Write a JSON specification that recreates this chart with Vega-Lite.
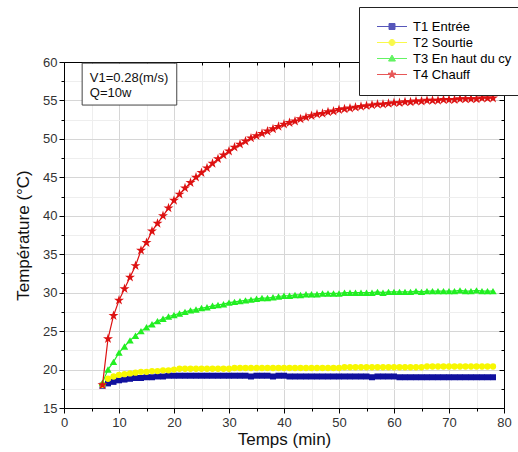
{
  "$schema": "https://vega.github.io/schema/vega-lite/v6.json",
  "autosize": {"type": "none"},
  "padding": {"left": 64, "top": 62, "right": 14, "bottom": 44},
  "width": 440,
  "height": 346,
  "background": "white",
  "config": {
    "font": "Liberation Sans",
    "view": {"stroke": "#000", "strokeWidth": 1},
    "axis": {"domainColor": "#000", "tickColor": "#000", "labelColor": "#333", "labelFont": "Liberation Sans", "labelFontSize": 13, "titleFont": "Liberation Sans", "titleFontSize": 17, "titleFontWeight": "normal", "titleColor": "#111"},
    "legend": {
      "orient": "none", "legendX": 295, "legendY": -55, "title": null,
      "fillColor": "white", "strokeColor": "#222", "padding": 13,
      "labelFont": "Liberation Sans", "labelFontSize": 13, "labelColor": "#000",
      "symbolSize": 36, "symbolOffset": 13.5, "labelOffset": 14.5, "rowPadding": 2, "symbolStrokeWidth": 1
    }
  },
  "datasets": {
    "temps": [
      {"t":7,"v":17.9,"s":"T1 Entrée"},{"t":8,"v":18.2,"s":"T1 Entrée"},{"t":9,"v":18.4,"s":"T1 Entrée"},{"t":10,"v":18.6,"s":"T1 Entrée"},{"t":11,"v":18.7,"s":"T1 Entrée"},{"t":12,"v":18.8,"s":"T1 Entrée"},{"t":13,"v":18.9,"s":"T1 Entrée"},{"t":14,"v":18.9,"s":"T1 Entrée"},{"t":15,"v":19.0,"s":"T1 Entrée"},{"t":16,"v":19.0,"s":"T1 Entrée"},{"t":17,"v":19.1,"s":"T1 Entrée"},{"t":18,"v":19.1,"s":"T1 Entrée"},{"t":19,"v":19.2,"s":"T1 Entrée"},{"t":20,"v":19.2,"s":"T1 Entrée"},
      {"t":21,"v":19.2,"s":"T1 Entrée"},{"t":22,"v":19.2,"s":"T1 Entrée"},{"t":23,"v":19.2,"s":"T1 Entrée"},{"t":24,"v":19.2,"s":"T1 Entrée"},{"t":25,"v":19.2,"s":"T1 Entrée"},{"t":26,"v":19.2,"s":"T1 Entrée"},{"t":27,"v":19.2,"s":"T1 Entrée"},{"t":28,"v":19.2,"s":"T1 Entrée"},{"t":29,"v":19.2,"s":"T1 Entrée"},{"t":30,"v":19.2,"s":"T1 Entrée"},
      {"t":31,"v":19.2,"s":"T1 Entrée"},{"t":32,"v":19.2,"s":"T1 Entrée"},{"t":33,"v":19.2,"s":"T1 Entrée"},{"t":34,"v":19.1,"s":"T1 Entrée"},{"t":35,"v":19.2,"s":"T1 Entrée"},{"t":36,"v":19.2,"s":"T1 Entrée"},{"t":37,"v":19.2,"s":"T1 Entrée"},{"t":38,"v":19.1,"s":"T1 Entrée"},{"t":39,"v":19.2,"s":"T1 Entrée"},{"t":40,"v":19.2,"s":"T1 Entrée"},
      {"t":41,"v":19.1,"s":"T1 Entrée"},{"t":42,"v":19.1,"s":"T1 Entrée"},{"t":43,"v":19.1,"s":"T1 Entrée"},{"t":44,"v":19.1,"s":"T1 Entrée"},{"t":45,"v":19.1,"s":"T1 Entrée"},{"t":46,"v":19.1,"s":"T1 Entrée"},{"t":47,"v":19.1,"s":"T1 Entrée"},{"t":48,"v":19.1,"s":"T1 Entrée"},{"t":49,"v":19.1,"s":"T1 Entrée"},{"t":50,"v":19.1,"s":"T1 Entrée"},
      {"t":51,"v":19.1,"s":"T1 Entrée"},{"t":52,"v":19.1,"s":"T1 Entrée"},{"t":53,"v":19.1,"s":"T1 Entrée"},{"t":54,"v":19.1,"s":"T1 Entrée"},{"t":55,"v":19.1,"s":"T1 Entrée"},{"t":56,"v":19.0,"s":"T1 Entrée"},{"t":57,"v":19.1,"s":"T1 Entrée"},{"t":58,"v":19.1,"s":"T1 Entrée"},{"t":59,"v":19.1,"s":"T1 Entrée"},{"t":60,"v":19.1,"s":"T1 Entrée"},
      {"t":61,"v":19.0,"s":"T1 Entrée"},{"t":62,"v":19.0,"s":"T1 Entrée"},{"t":63,"v":19.0,"s":"T1 Entrée"},{"t":64,"v":19.0,"s":"T1 Entrée"},{"t":65,"v":19.0,"s":"T1 Entrée"},{"t":66,"v":19.0,"s":"T1 Entrée"},{"t":67,"v":19.0,"s":"T1 Entrée"},{"t":68,"v":19.0,"s":"T1 Entrée"},{"t":69,"v":19.0,"s":"T1 Entrée"},{"t":70,"v":19.0,"s":"T1 Entrée"},
      {"t":71,"v":19.0,"s":"T1 Entrée"},{"t":72,"v":19.0,"s":"T1 Entrée"},{"t":73,"v":19.0,"s":"T1 Entrée"},{"t":74,"v":19.0,"s":"T1 Entrée"},{"t":75,"v":19.0,"s":"T1 Entrée"},{"t":76,"v":19.0,"s":"T1 Entrée"},{"t":77,"v":19.0,"s":"T1 Entrée"},{"t":78,"v":19.0,"s":"T1 Entrée"},

      {"t":7,"v":18.0,"s":"T2 Sourtie"},{"t":8,"v":18.8,"s":"T2 Sourtie"},{"t":9,"v":19.1,"s":"T2 Sourtie"},{"t":10,"v":19.3,"s":"T2 Sourtie"},{"t":11,"v":19.4,"s":"T2 Sourtie"},{"t":12,"v":19.5,"s":"T2 Sourtie"},{"t":13,"v":19.6,"s":"T2 Sourtie"},{"t":14,"v":19.7,"s":"T2 Sourtie"},{"t":15,"v":19.7,"s":"T2 Sourtie"},{"t":16,"v":19.8,"s":"T2 Sourtie"},{"t":17,"v":19.8,"s":"T2 Sourtie"},{"t":18,"v":19.9,"s":"T2 Sourtie"},{"t":19,"v":19.9,"s":"T2 Sourtie"},{"t":20,"v":20.0,"s":"T2 Sourtie"},
      {"t":21,"v":20.1,"s":"T2 Sourtie"},{"t":22,"v":20.1,"s":"T2 Sourtie"},{"t":23,"v":20.1,"s":"T2 Sourtie"},{"t":24,"v":20.1,"s":"T2 Sourtie"},{"t":25,"v":20.1,"s":"T2 Sourtie"},{"t":26,"v":20.1,"s":"T2 Sourtie"},{"t":27,"v":20.1,"s":"T2 Sourtie"},{"t":28,"v":20.1,"s":"T2 Sourtie"},{"t":29,"v":20.1,"s":"T2 Sourtie"},{"t":30,"v":20.1,"s":"T2 Sourtie"},
      {"t":31,"v":20.2,"s":"T2 Sourtie"},{"t":32,"v":20.2,"s":"T2 Sourtie"},{"t":33,"v":20.2,"s":"T2 Sourtie"},{"t":34,"v":20.2,"s":"T2 Sourtie"},{"t":35,"v":20.2,"s":"T2 Sourtie"},{"t":36,"v":20.2,"s":"T2 Sourtie"},{"t":37,"v":20.2,"s":"T2 Sourtie"},{"t":38,"v":20.2,"s":"T2 Sourtie"},{"t":39,"v":20.2,"s":"T2 Sourtie"},{"t":40,"v":20.2,"s":"T2 Sourtie"},
      {"t":41,"v":20.2,"s":"T2 Sourtie"},{"t":42,"v":20.2,"s":"T2 Sourtie"},{"t":43,"v":20.2,"s":"T2 Sourtie"},{"t":44,"v":20.2,"s":"T2 Sourtie"},{"t":45,"v":20.2,"s":"T2 Sourtie"},{"t":46,"v":20.2,"s":"T2 Sourtie"},{"t":47,"v":20.2,"s":"T2 Sourtie"},{"t":48,"v":20.2,"s":"T2 Sourtie"},{"t":49,"v":20.2,"s":"T2 Sourtie"},{"t":50,"v":20.2,"s":"T2 Sourtie"},
      {"t":51,"v":20.3,"s":"T2 Sourtie"},{"t":52,"v":20.3,"s":"T2 Sourtie"},{"t":53,"v":20.3,"s":"T2 Sourtie"},{"t":54,"v":20.3,"s":"T2 Sourtie"},{"t":55,"v":20.3,"s":"T2 Sourtie"},{"t":56,"v":20.3,"s":"T2 Sourtie"},{"t":57,"v":20.3,"s":"T2 Sourtie"},{"t":58,"v":20.3,"s":"T2 Sourtie"},{"t":59,"v":20.3,"s":"T2 Sourtie"},{"t":60,"v":20.3,"s":"T2 Sourtie"},
      {"t":61,"v":20.3,"s":"T2 Sourtie"},{"t":62,"v":20.3,"s":"T2 Sourtie"},{"t":63,"v":20.3,"s":"T2 Sourtie"},{"t":64,"v":20.3,"s":"T2 Sourtie"},{"t":65,"v":20.3,"s":"T2 Sourtie"},{"t":66,"v":20.4,"s":"T2 Sourtie"},{"t":67,"v":20.4,"s":"T2 Sourtie"},{"t":68,"v":20.4,"s":"T2 Sourtie"},{"t":69,"v":20.4,"s":"T2 Sourtie"},{"t":70,"v":20.4,"s":"T2 Sourtie"},
      {"t":71,"v":20.4,"s":"T2 Sourtie"},{"t":72,"v":20.4,"s":"T2 Sourtie"},{"t":73,"v":20.4,"s":"T2 Sourtie"},{"t":74,"v":20.4,"s":"T2 Sourtie"},{"t":75,"v":20.4,"s":"T2 Sourtie"},{"t":76,"v":20.4,"s":"T2 Sourtie"},{"t":77,"v":20.4,"s":"T2 Sourtie"},{"t":78,"v":20.4,"s":"T2 Sourtie"},

      {"t":7,"v":18.3,"s":"T3 En haut du cy"},{"t":8,"v":20.0,"s":"T3 En haut du cy"},{"t":9,"v":21.0,"s":"T3 En haut du cy"},{"t":10,"v":22.2,"s":"T3 En haut du cy"},{"t":11,"v":23.0,"s":"T3 En haut du cy"},{"t":12,"v":23.8,"s":"T3 En haut du cy"},{"t":13,"v":24.4,"s":"T3 En haut du cy"},{"t":14,"v":25.0,"s":"T3 En haut du cy"},{"t":15,"v":25.5,"s":"T3 En haut du cy"},{"t":16,"v":25.9,"s":"T3 En haut du cy"},{"t":17,"v":26.3,"s":"T3 En haut du cy"},{"t":18,"v":26.6,"s":"T3 En haut du cy"},{"t":19,"v":26.9,"s":"T3 En haut du cy"},{"t":20,"v":27.1,"s":"T3 En haut du cy"},
      {"t":21,"v":27.3,"s":"T3 En haut du cy"},{"t":22,"v":27.5,"s":"T3 En haut du cy"},{"t":23,"v":27.7,"s":"T3 En haut du cy"},{"t":24,"v":27.8,"s":"T3 En haut du cy"},{"t":25,"v":28.0,"s":"T3 En haut du cy"},{"t":26,"v":28.1,"s":"T3 En haut du cy"},{"t":27,"v":28.3,"s":"T3 En haut du cy"},{"t":28,"v":28.4,"s":"T3 En haut du cy"},{"t":29,"v":28.5,"s":"T3 En haut du cy"},{"t":30,"v":28.7,"s":"T3 En haut du cy"},
      {"t":31,"v":28.8,"s":"T3 En haut du cy"},{"t":32,"v":28.9,"s":"T3 En haut du cy"},{"t":33,"v":29.0,"s":"T3 En haut du cy"},{"t":34,"v":29.1,"s":"T3 En haut du cy"},{"t":35,"v":29.2,"s":"T3 En haut du cy"},{"t":36,"v":29.3,"s":"T3 En haut du cy"},{"t":37,"v":29.3,"s":"T3 En haut du cy"},{"t":38,"v":29.4,"s":"T3 En haut du cy"},{"t":39,"v":29.5,"s":"T3 En haut du cy"},{"t":40,"v":29.6,"s":"T3 En haut du cy"},
      {"t":41,"v":29.6,"s":"T3 En haut du cy"},{"t":42,"v":29.7,"s":"T3 En haut du cy"},{"t":43,"v":29.7,"s":"T3 En haut du cy"},{"t":44,"v":29.8,"s":"T3 En haut du cy"},{"t":45,"v":29.8,"s":"T3 En haut du cy"},{"t":46,"v":29.8,"s":"T3 En haut du cy"},{"t":47,"v":29.9,"s":"T3 En haut du cy"},{"t":48,"v":29.9,"s":"T3 En haut du cy"},{"t":49,"v":29.9,"s":"T3 En haut du cy"},{"t":50,"v":29.9,"s":"T3 En haut du cy"},
      {"t":51,"v":30.0,"s":"T3 En haut du cy"},{"t":52,"v":30.0,"s":"T3 En haut du cy"},{"t":53,"v":30.0,"s":"T3 En haut du cy"},{"t":54,"v":30.0,"s":"T3 En haut du cy"},{"t":55,"v":30.0,"s":"T3 En haut du cy"},{"t":56,"v":30.0,"s":"T3 En haut du cy"},{"t":57,"v":30.1,"s":"T3 En haut du cy"},{"t":58,"v":30.0,"s":"T3 En haut du cy"},{"t":59,"v":30.1,"s":"T3 En haut du cy"},{"t":60,"v":30.1,"s":"T3 En haut du cy"},
      {"t":61,"v":30.1,"s":"T3 En haut du cy"},{"t":62,"v":30.1,"s":"T3 En haut du cy"},{"t":63,"v":30.1,"s":"T3 En haut du cy"},{"t":64,"v":30.2,"s":"T3 En haut du cy"},{"t":65,"v":30.1,"s":"T3 En haut du cy"},{"t":66,"v":30.2,"s":"T3 En haut du cy"},{"t":67,"v":30.2,"s":"T3 En haut du cy"},{"t":68,"v":30.2,"s":"T3 En haut du cy"},{"t":69,"v":30.2,"s":"T3 En haut du cy"},{"t":70,"v":30.2,"s":"T3 En haut du cy"},
      {"t":71,"v":30.2,"s":"T3 En haut du cy"},{"t":72,"v":30.3,"s":"T3 En haut du cy"},{"t":73,"v":30.2,"s":"T3 En haut du cy"},{"t":74,"v":30.2,"s":"T3 En haut du cy"},{"t":75,"v":30.3,"s":"T3 En haut du cy"},{"t":76,"v":30.2,"s":"T3 En haut du cy"},{"t":77,"v":30.2,"s":"T3 En haut du cy"},{"t":78,"v":30.2,"s":"T3 En haut du cy"},

      {"t":7,"v":18.0,"s":"T4 Chauff"},{"t":8,"v":24.0,"s":"T4 Chauff"},{"t":9,"v":27.0,"s":"T4 Chauff"},{"t":10,"v":29.0,"s":"T4 Chauff"},{"t":11,"v":30.5,"s":"T4 Chauff"},{"t":12,"v":32.0,"s":"T4 Chauff"},{"t":13,"v":33.5,"s":"T4 Chauff"},{"t":14,"v":35.5,"s":"T4 Chauff"},{"t":15,"v":36.5,"s":"T4 Chauff"},{"t":16,"v":38.0,"s":"T4 Chauff"},{"t":17,"v":39.0,"s":"T4 Chauff"},{"t":18,"v":40.0,"s":"T4 Chauff"},{"t":19,"v":41.0,"s":"T4 Chauff"},{"t":20,"v":42.0,"s":"T4 Chauff"},
      {"t":21,"v":42.8,"s":"T4 Chauff"},{"t":22,"v":43.6,"s":"T4 Chauff"},{"t":23,"v":44.3,"s":"T4 Chauff"},{"t":24,"v":45.0,"s":"T4 Chauff"},{"t":25,"v":45.6,"s":"T4 Chauff"},{"t":26,"v":46.2,"s":"T4 Chauff"},{"t":27,"v":46.8,"s":"T4 Chauff"},{"t":28,"v":47.4,"s":"T4 Chauff"},{"t":29,"v":47.9,"s":"T4 Chauff"},{"t":30,"v":48.4,"s":"T4 Chauff"},
      {"t":31,"v":48.9,"s":"T4 Chauff"},{"t":32,"v":49.3,"s":"T4 Chauff"},{"t":33,"v":49.7,"s":"T4 Chauff"},{"t":34,"v":50.1,"s":"T4 Chauff"},{"t":35,"v":50.4,"s":"T4 Chauff"},{"t":36,"v":50.7,"s":"T4 Chauff"},{"t":37,"v":51.0,"s":"T4 Chauff"},{"t":38,"v":51.3,"s":"T4 Chauff"},{"t":39,"v":51.6,"s":"T4 Chauff"},{"t":40,"v":51.9,"s":"T4 Chauff"},
      {"t":41,"v":52.1,"s":"T4 Chauff"},{"t":42,"v":52.3,"s":"T4 Chauff"},{"t":43,"v":52.6,"s":"T4 Chauff"},{"t":44,"v":52.8,"s":"T4 Chauff"},{"t":45,"v":53.0,"s":"T4 Chauff"},{"t":46,"v":53.2,"s":"T4 Chauff"},{"t":47,"v":53.3,"s":"T4 Chauff"},{"t":48,"v":53.5,"s":"T4 Chauff"},{"t":49,"v":53.6,"s":"T4 Chauff"},{"t":50,"v":53.8,"s":"T4 Chauff"},
      {"t":51,"v":53.9,"s":"T4 Chauff"},{"t":52,"v":54.0,"s":"T4 Chauff"},{"t":53,"v":54.1,"s":"T4 Chauff"},{"t":54,"v":54.2,"s":"T4 Chauff"},{"t":55,"v":54.3,"s":"T4 Chauff"},{"t":56,"v":54.4,"s":"T4 Chauff"},{"t":57,"v":54.5,"s":"T4 Chauff"},{"t":58,"v":54.5,"s":"T4 Chauff"},{"t":59,"v":54.6,"s":"T4 Chauff"},{"t":60,"v":54.7,"s":"T4 Chauff"},
      {"t":61,"v":54.7,"s":"T4 Chauff"},{"t":62,"v":54.8,"s":"T4 Chauff"},{"t":63,"v":54.8,"s":"T4 Chauff"},{"t":64,"v":54.9,"s":"T4 Chauff"},{"t":65,"v":54.9,"s":"T4 Chauff"},{"t":66,"v":55.0,"s":"T4 Chauff"},{"t":67,"v":55.0,"s":"T4 Chauff"},{"t":68,"v":55.0,"s":"T4 Chauff"},{"t":69,"v":55.1,"s":"T4 Chauff"},{"t":70,"v":55.1,"s":"T4 Chauff"},
      {"t":71,"v":55.1,"s":"T4 Chauff"},{"t":72,"v":55.2,"s":"T4 Chauff"},{"t":73,"v":55.2,"s":"T4 Chauff"},{"t":74,"v":55.2,"s":"T4 Chauff"},{"t":75,"v":55.2,"s":"T4 Chauff"},{"t":76,"v":55.3,"s":"T4 Chauff"},{"t":77,"v":55.3,"s":"T4 Chauff"},{"t":78,"v":55.3,"s":"T4 Chauff"}
    ],
    "box": [{"x1": 3.3, "x2": 20.5, "y1": 54.4, "y2": 59.85}],
    "notes": [{"x": 4.7, "y": 57.4, "label": "V1=0.28(m/s)"}, {"x": 4.7, "y": 55.45, "label": "Q=10w"}]
  },
  "resolve": {"axis": {"x": "independent", "y": "independent"}},
  "layer": [
    {
      "data": {"name": "temps"},
      "transform": [{"filter": "false"}],
      "mark": {"type": "point", "filled": true, "stroke": "#888", "strokeWidth": 1},
      "encoding": {
        "x": {"field": "t", "type": "quantitative", "scale": {"domain": [0, 80], "nice": false, "zero": false}, "axis": null},
        "y": {"field": "v", "type": "quantitative", "scale": {"domain": [15, 60], "nice": false, "zero": false}, "axis": null},
        "color": {"field": "s", "type": "nominal", "scale": {"domain": ["T1 Entrée", "T2 Sourtie", "T3 En haut du cy", "T4 Chauff"], "range": ["#10109e", "#f7f700", "#22ee22", "#dd1111"]}},
        "shape": {"field": "s", "type": "nominal", "scale": {"domain": ["T1 Entrée", "T2 Sourtie", "T3 En haut du cy", "T4 Chauff"], "range": [
          "M-5,0L5,0M-1,-1L1,-1L1,1L-1,1Z",
          "M-5,0L5,0M1,0A1,1,0,1,1,-1,0A1,1,0,1,1,1,0Z",
          "M-5,0L5,0M0,-1.15L1.15,0.85L-1.15,0.85Z",
          "M-5,0L5,0M0,-1.4L0.314,-0.433L1.331,-0.433L0.508,0.165L0.823,1.133L0,0.535L-0.823,1.133L-0.508,0.165L-1.331,-0.433L-0.314,-0.433Z"
        ]}}
      }
    },
    {
      "data": {"name": "temps"},
      "mark": {"type": "line", "strokeWidth": 1.2},
      "encoding": {
        "x": {"field": "t", "type": "quantitative", "axis": null},
        "y": {"field": "v", "type": "quantitative", "axis": null},
        "stroke": {"field": "s", "type": "nominal", "scale": {"domain": ["T1 Entrée", "T2 Sourtie", "T3 En haut du cy", "T4 Chauff"], "range": ["#10109e", "#f7f700", "#22ee22", "#dd1111"]}},
        "detail": {"field": "s"}
      }
    },
    {
      "data": {"name": "temps"},
      "transform": [{"filter": "datum.s === 'T1 Entrée'"}],
      "mark": {"type": "point", "filled": true, "opacity": 1, "shape": "square", "size": 36, "color": "#10109e"},
      "encoding": {
        "x": {"field": "t", "type": "quantitative", "axis": {
          "orient": "bottom", "title": "Temps (min)", "grid": true,
          "values": [0,5,10,15,20,25,30,35,40,45,50,55,60,65,70,75,80],
          "labelExpr": "datum.value % 10 === 0 ? datum.label : ''",
          "tickSize": {"condition": {"test": "datum.value % 10 === 0", "value": 5}, "value": 3},
          "gridColor": {"condition": {"test": "datum.value % 10 === 0", "value": "#d6d6d6"}, "value": "#eeeeee"},
          "labelPadding": 3, "titlePadding": 2, "labelFlush": false
        }},
        "y": {"field": "v", "type": "quantitative", "axis": {
          "orient": "left", "title": "Température (°C)", "grid": true,
          "values": [15,17.5,20,22.5,25,27.5,30,32.5,35,37.5,40,42.5,45,47.5,50,52.5,55,57.5,60],
          "labelExpr": "datum.value % 5 === 0 ? datum.label : ''",
          "tickSize": {"condition": {"test": "datum.value % 5 === 0", "value": 5}, "value": 3},
          "gridColor": {"condition": {"test": "datum.value % 5 === 0", "value": "#d6d6d6"}, "value": "#eeeeee"},
          "labelPadding": 2, "titlePadding": 10, "labelFlush": false
        }}
      }
    },
    {
      "data": {"name": "temps"},
      "transform": [{"filter": "datum.s === 'T2 Sourtie'"}],
      "mark": {"type": "point", "filled": true, "opacity": 1, "shape": "circle", "size": 40, "color": "#f7f700"},
      "encoding": {
        "x": {"field": "t", "type": "quantitative", "axis": null},
        "y": {"field": "v", "type": "quantitative", "axis": null}
      }
    },
    {
      "data": {"name": "temps"},
      "transform": [{"filter": "datum.s === 'T3 En haut du cy'"}],
      "mark": {"type": "point", "filled": true, "opacity": 1, "shape": "triangle-up", "size": 55, "color": "#22ee22"},
      "encoding": {
        "x": {"field": "t", "type": "quantitative", "axis": null},
        "y": {"field": "v", "type": "quantitative", "axis": null}
      }
    },
    {
      "data": {"name": "temps"},
      "transform": [{"filter": "datum.s === 'T4 Chauff'"}],
      "mark": {"type": "point", "filled": true, "opacity": 1, "shape": "M0,-1L0.2245,-0.309L0.951,-0.309L0.363,0.118L0.588,0.809L0,0.382L-0.588,0.809L-0.363,0.118L-0.951,-0.309L-0.2245,-0.309Z", "size": 110, "color": "#dd1111"},
      "encoding": {
        "x": {"field": "t", "type": "quantitative", "axis": null},
        "y": {"field": "v", "type": "quantitative", "axis": null}
      }
    },
    {
      "data": {"name": "box"},
      "mark": {"type": "rect", "fill": "white", "stroke": "#444", "strokeWidth": 1},
      "encoding": {
        "x": {"field": "x1", "type": "quantitative", "axis": {
          "orient": "top", "title": null, "labels": false, "grid": false,
          "values": [0,5,10,15,20,25,30,35,40,45,50,55,60,65,70,75,80],
          "tickSize": {"condition": {"test": "datum.value % 10 === 0", "value": -5}, "value": -3}
        }},
        "x2": {"field": "x2"},
        "y": {"field": "y1", "type": "quantitative", "axis": {
          "orient": "right", "title": null, "labels": false, "grid": false,
          "values": [15,17.5,20,22.5,25,27.5,30,32.5,35,37.5,40,42.5,45,47.5,50,52.5,55,57.5,60],
          "tickSize": {"condition": {"test": "datum.value % 5 === 0", "value": -5}, "value": -3}
        }},
        "y2": {"field": "y2"}
      }
    },
    {
      "data": {"name": "notes"},
      "mark": {"type": "text", "align": "left", "baseline": "alphabetic", "font": "Liberation Sans", "fontSize": 13, "color": "#111"},
      "encoding": {
        "x": {"field": "x", "type": "quantitative", "axis": null},
        "y": {"field": "y", "type": "quantitative", "axis": null},
        "text": {"field": "label"}
      }
    }
  ]
}
